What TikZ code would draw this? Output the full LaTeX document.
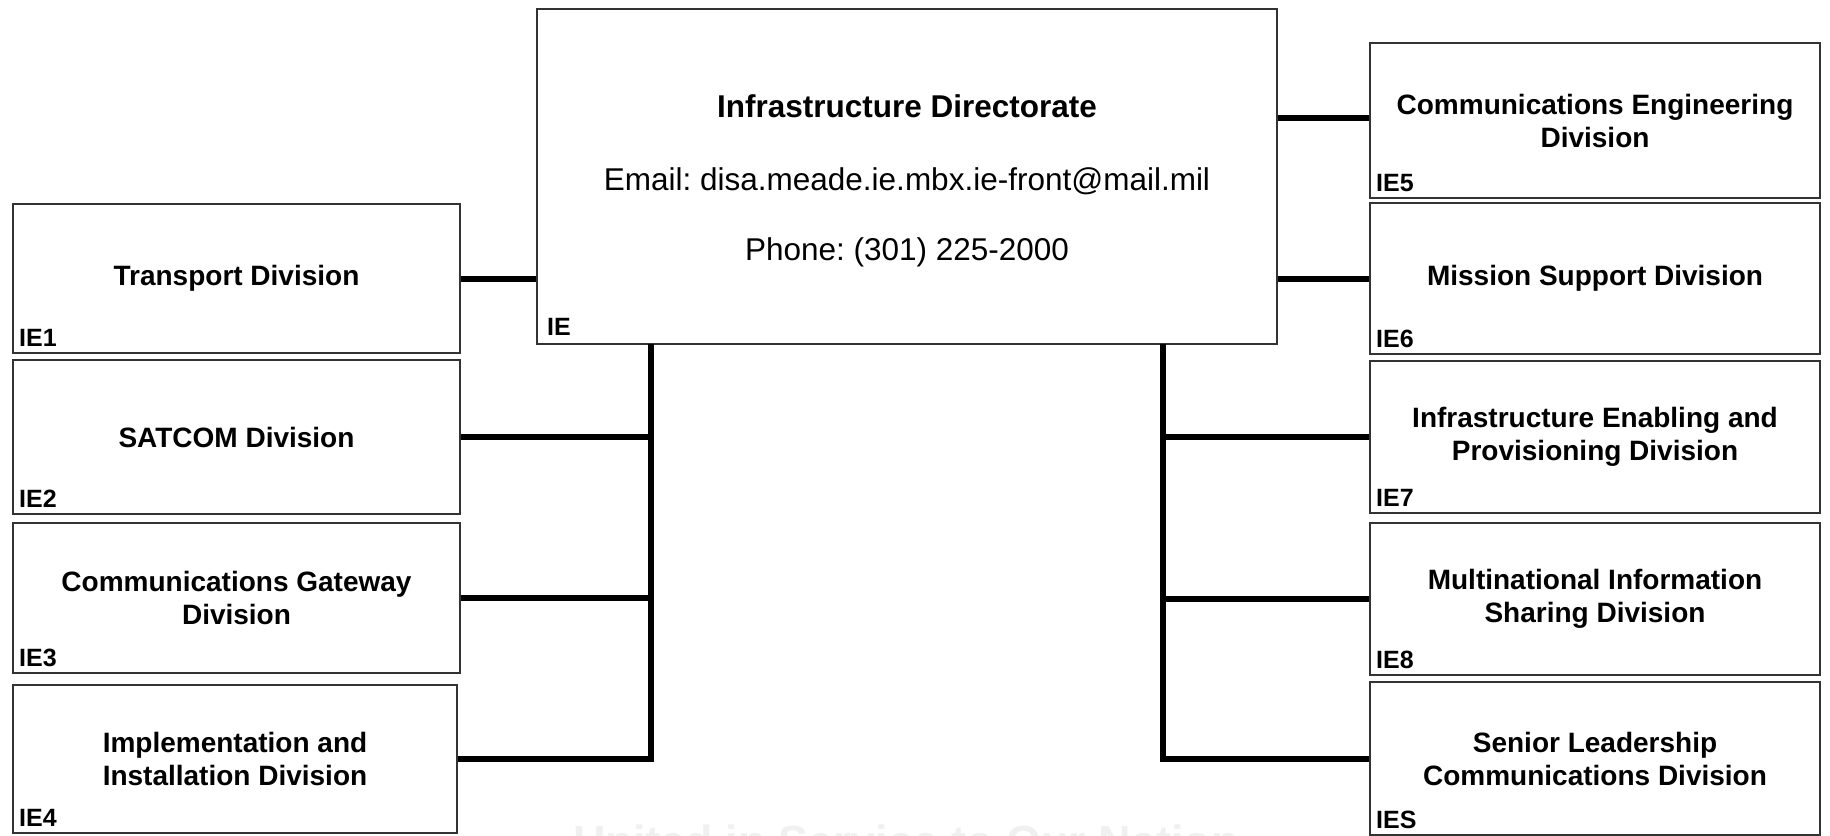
\documentclass[tikz,border=0pt]{standalone}
\usepackage{fontspec}
\setmainfont{Liberation Sans}
\frenchspacing

\begin{document}
\begin{tikzpicture}[x=1pt, y=-1pt,
  box/.style={draw=black!80, line width=2pt, fill=white, inner sep=0pt},
  div/.style={box, align=center, font=\fontsize{28}{33}\selectfont\bfseries, minimum width=447pt, minimum height=150pt},
  code/.style={anchor=south west, inner sep=0pt, xshift=7pt, yshift=7pt, font=\fontsize{25}{30}\selectfont\bfseries},
  link/.style={line width=6pt}]
\clip (0,0) rectangle (1830,835);

% faint motto behind the chart
\node (motto) at (906,857) [anchor=base, text=black!6, font=\fontsize{45}{54}\selectfont\bfseries] {United in Service to Our Nation};

\node (IE) at (907,176.5) [box, minimum width=740pt, minimum height=335pt] {};
\node (IEt) at (907,117) [anchor=base, font=\fontsize{31.5}{38}\selectfont\bfseries] {Infrastructure Directorate};
\node (IEm) at (907,190) [anchor=base, font=\fontsize{31.5}{38}\selectfont] {Email: disa.meade.ie.mbx.ie-front@mail.mil};
\node (IEp) at (907,260) [anchor=base, font=\fontsize{31.5}{38}\selectfont] {Phone: (301) 225-2000};
\node (IEc) at (IE.south west) [code, xshift=4pt, yshift=2pt] {IE};

% left divisions
\node (IE1) at (236.5,278.5) [div, minimum height=149pt] {Transport Division};
\node (IE2) at (236.5,437) [div, minimum height=154pt] {SATCOM Division};
\node (IE3) at (236.5,598) [div] {Communications Gateway\\Division};
\node (IE4) at (235,759) [div, minimum width=444pt, minimum height=148pt] {Implementation and\\Installation Division};

% right divisions
\node (IE5) at (1595,120.5) [div, minimum width=450pt, minimum height=155pt] {Communications Engineering\\Division};
\node (IE6) at (1595,278.5) [div, minimum width=450pt, minimum height=151pt] {Mission Support Division};
\node (IE7) at (1595,437) [div, minimum width=450pt, minimum height=152pt] {Infrastructure Enabling and\\Provisioning Division};
\node (IE8) at (1595,599) [div, minimum width=450pt, minimum height=152pt] {Multinational Information\\Sharing Division};
\node (IES) at (1595,758.5) [div, minimum width=450pt, minimum height=153pt] {Senior Leadership\\Communications Division};

\node (IE1c) at (IE1.south west) [code] {IE1};
\node (IE2c) at (IE2.south west) [code] {IE2};
\node (IE3c) at (IE3.south west) [code] {IE3};
\node (IE4c) at (IE4.south west) [code] {IE4};
\node (IE5c) at (IE5.south west) [code] {IE5};
\node (IE6c) at (IE6.south west) [code] {IE6};
\node (IE7c) at (IE7.south west) [code] {IE7};
\node (IE8c) at (IE8.south west) [code] {IE8};
\node (IESc) at (IES.south west) [code] {IES};

\coordinate (tl) at (651,344);
\coordinate (tr) at (1163,344);

\draw [link] (IE1.east) -- (IE1.east -| IE.west);
\draw [link] ([yshift=3pt]IE5.west) -- ([yshift=3pt]IE5.west -| IE.east);
\draw [link] (IE6.west) -- (IE6.west -| IE.east);

\draw [link] (IE4.east) -| (tl);
\draw [link] (IE2.east) -- (IE2.east -| tl);
\draw [link] (IE3.east) -- (IE3.east -| tl);

\draw [link] (IES.west) -| (tr);
\draw [link] (IE7.west) -- (IE7.west -| tr);
\draw [link] (IE8.west) -- (IE8.west -| tr);
\end{tikzpicture}
\end{document}
